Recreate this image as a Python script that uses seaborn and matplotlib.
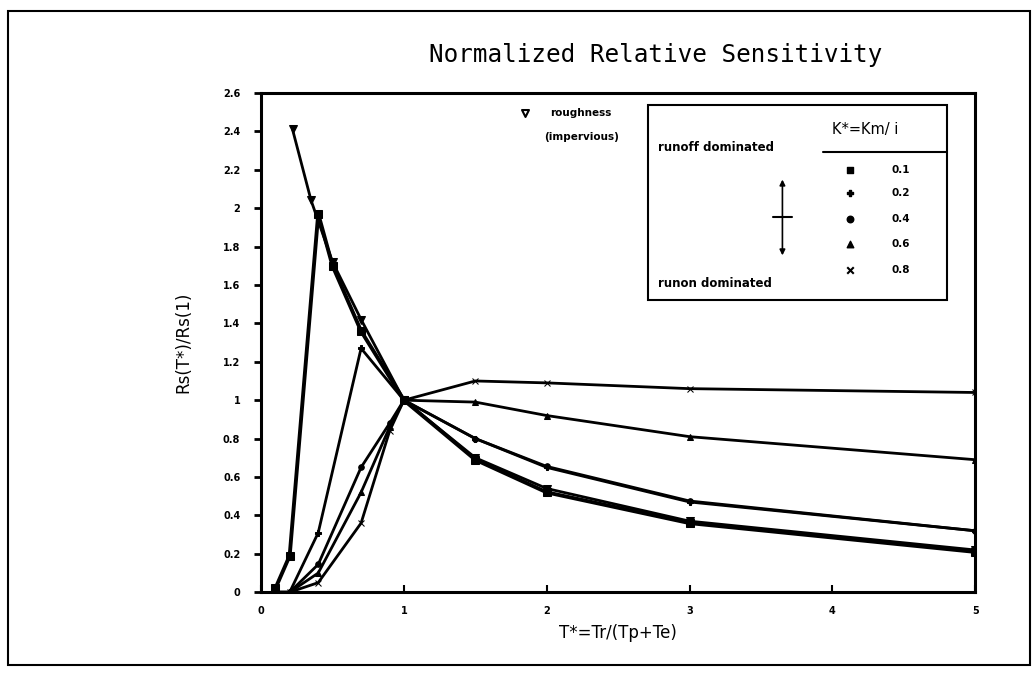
import numpy as np
import pandas as pd
import seaborn as sns
import matplotlib.pyplot as plt
from matplotlib.patches import Rectangle

# values
x_rough = [0.22, 0.35, 0.5, 0.7, 1.0, 1.5, 2.0, 3.0, 5.0]
y_rough = [2.41, 2.04, 1.72, 1.42, 1.0, 0.70, 0.54, 0.37, 0.22]

x_k01 = [0.1, 0.2, 0.4, 0.5, 0.7, 1.0, 1.5, 2.0, 3.0, 5.0]
y_k01 = [0.02, 0.19, 1.97, 1.70, 1.36, 1.0, 0.69, 0.52, 0.36, 0.21]

x_k02 = [0.1, 0.2, 0.4, 0.7, 1.0, 1.5, 2.0, 3.0, 5.0]
y_k02 = [0.0, 0.0, 0.31, 1.27, 1.0, 0.80, 0.65, 0.47, 0.32]

x_k04 = [0.1, 0.2, 0.4, 0.7, 0.9, 1.0, 1.5, 2.0, 3.0, 5.0]
y_k04 = [0.0, 0.0, 0.145, 0.65, 0.88, 1.0, 0.80, 0.655, 0.475, 0.32]

x_k06 = [0.1, 0.2, 0.4, 0.7, 0.9, 1.0, 1.5, 2.0, 3.0, 5.0]
y_k06 = [0.0, 0.0, 0.10, 0.52, 0.86, 1.0, 0.99, 0.92, 0.81, 0.69]

x_k08 = [0.1, 0.2, 0.4, 0.7, 0.9, 1.0, 1.5, 2.0, 3.0, 5.0]
y_k08 = [0.0, 0.0, 0.05, 0.36, 0.84, 1.0, 1.10, 1.09, 1.06, 1.04]

k_labels = ['0.1', '0.2', '0.4', '0.6', '0.8']
k_markers = ['s', 'P', 'o', '^', 'x']
y_ticks = [0, 0.2, 0.4, 0.6, 0.8, 1, 1.2, 1.4, 1.6, 1.8, 2, 2.2, 2.4, 2.6]
x_ticks = [0, 1, 2, 3, 4, 5]

sns.set_theme(style="white")
plt.rcParams['font.family'] = ['DejaVu Sans']
plt.rcParams['text.color'] = 'black'
plt.rcParams['axes.labelcolor'] = 'black'
plt.rcParams['xtick.color'] = 'black'
plt.rcParams['ytick.color'] = 'black'

fig = plt.figure(figsize=(10.32, 6.73), dpi=100)
ax = fig.add_axes([0.253, 0.120, 0.692, 0.742])

series = [(x_k01, y_k01, 's', 6, 2.8), (x_k02, y_k02, 'P', 5, 2.0),
          (x_k04, y_k04, 'o', 4, 2.0), (x_k06, y_k06, '^', 4, 2.0),
          (x_k08, y_k08, 'x', 5, 2.0), (x_rough, y_rough, 'v', 6, 2.0)]
for xs, ys, mk, ms, lw in series:
    sns.lineplot(x=xs, y=ys, ax=ax, color='black', marker=mk, markersize=ms,
                 linewidth=lw, markeredgecolor='black', markerfacecolor='black',
                 sort=False)

ax.set_xlim(0, 5)
ax.set_ylim(0, 2.6)
ax.set_xticks(x_ticks)
ax.set_yticks(y_ticks)
ax.set_xticklabels([str(t) for t in x_ticks], fontsize=7, fontweight='bold')
ax.set_yticklabels(['%g' % t for t in y_ticks], fontsize=7, fontweight='bold')
ax.tick_params(axis='y', direction='out', length=5, width=2, left=True, pad=10)
ax.tick_params(axis='x', direction='in', length=5, width=1.5, bottom=True, pad=10)
for s in ax.spines.values():
    s.set_color('black')
    s.set_linewidth(2.2)

ax.set_xlabel('T*=Tr/(Tp+Te)', fontsize=12, labelpad=6)
ax.set_ylabel('Rs(T*)/Rs(1)', fontsize=12, labelpad=22)
fig.text(0.635, 0.918, 'Normalized Relative Sensitivity', ha='center', va='center',
         fontsize=17.5, family='DejaVu Sans Mono')

# roughness note
ax.scatter([0.37], [0.96], marker='v', s=25, facecolors='white', edgecolors='black',
           linewidths=1.5, transform=ax.transAxes)
ax.text(0.405, 0.96, 'roughness', transform=ax.transAxes, fontsize=7.5,
        fontweight='bold', va='center')
ax.text(0.397, 0.912, '(impervious)', transform=ax.transAxes, fontsize=7.5,
        fontweight='bold', va='center')

# legend box
ax.add_patch(Rectangle((0.542, 0.585), 0.419, 0.391, transform=ax.transAxes,
                       fill=False, edgecolor='black', linewidth=1.5))
ax.text(0.556, 0.89, 'runoff dominated', transform=ax.transAxes, fontsize=8.5,
        fontweight='bold', va='center')
ax.text(0.556, 0.619, 'runon dominated', transform=ax.transAxes, fontsize=8.5,
        fontweight='bold', va='center')
ax.text(0.80, 0.926, 'K*=Km/ i', transform=ax.transAxes, fontsize=10.5, va='center')
ax.plot([0.787, 0.961], [0.882, 0.882], transform=ax.transAxes, color='black', lw=1.5)
ax.annotate('', xy=(0.73, 0.669), xytext=(0.73, 0.832), xycoords='axes fraction',
            arrowprops=dict(arrowstyle='<|-|>', color='black', lw=1.2,
                            mutation_scale=8))
ax.plot([0.717, 0.743], [0.751, 0.751], transform=ax.transAxes, color='black', lw=1.5)
rows = [0.846, 0.800, 0.747, 0.697, 0.645]
for r, mk, lab in zip(rows, k_markers, k_labels):
    ax.scatter([0.825], [r], marker=mk, s=22, color='black', transform=ax.transAxes)
    ax.text(0.883, r, lab, transform=ax.transAxes, fontsize=7.5, fontweight='bold',
            va='center')

# outer frame
fig.patches.append(Rectangle((0.008, 0.012), 0.99, 0.972, transform=fig.transFigure,
                             fill=False, edgecolor='black', linewidth=1.5))

fig.savefig('out.png', dpi=100)
